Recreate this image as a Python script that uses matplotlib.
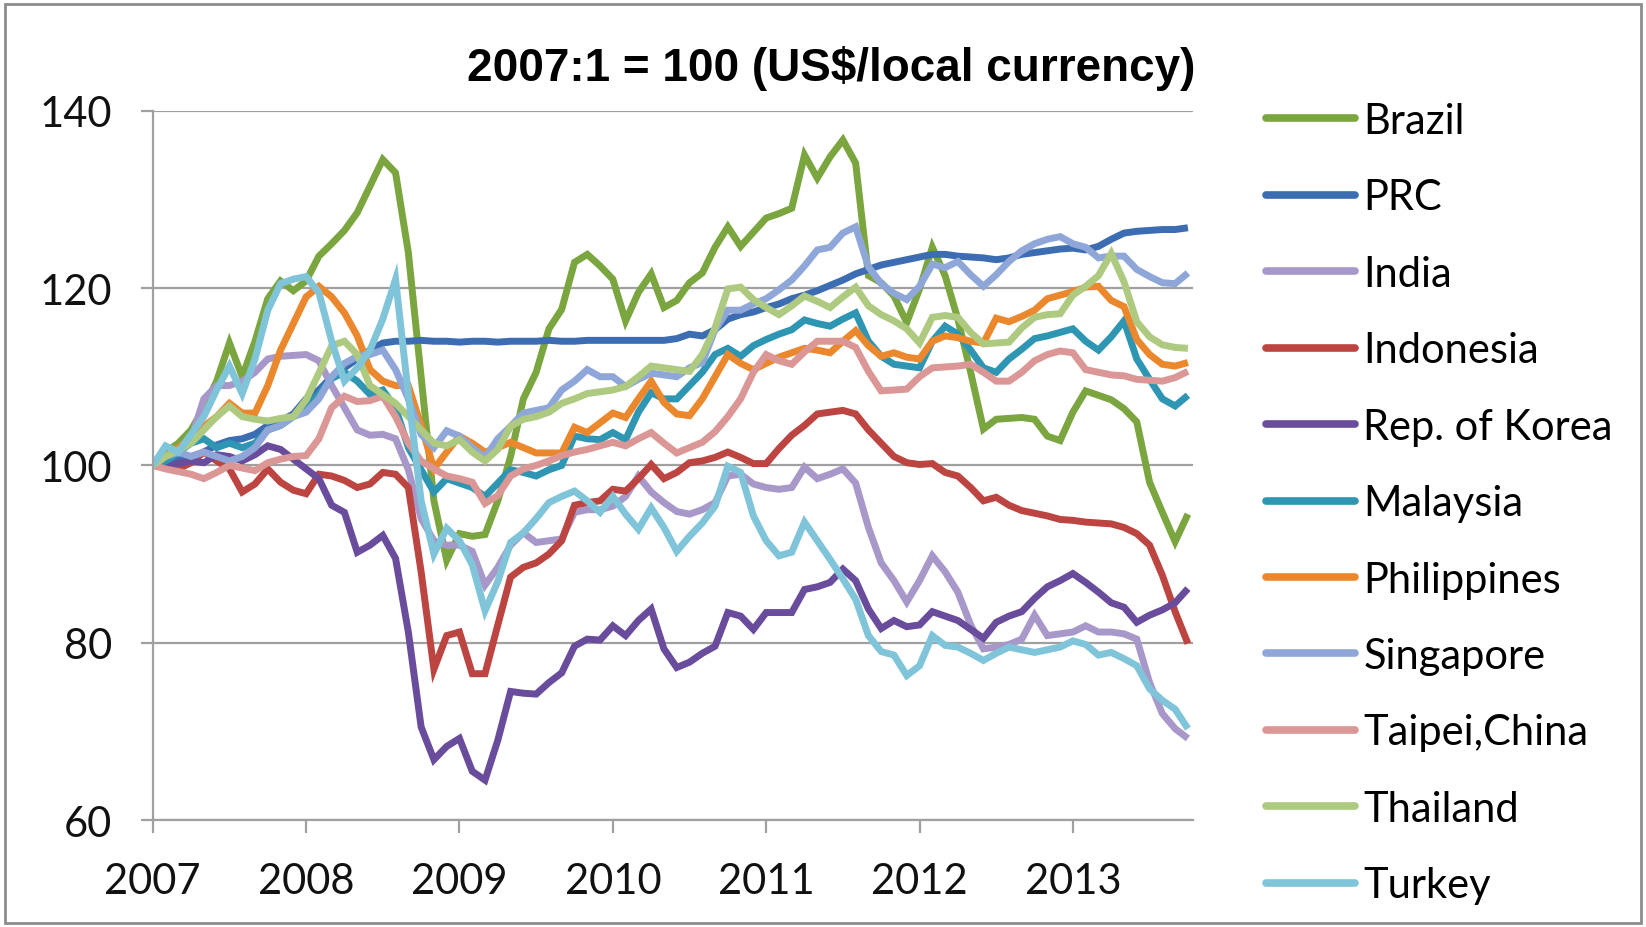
import numpy as np
import matplotlib
matplotlib.use("Agg")
import matplotlib.pyplot as plt
from matplotlib.patches import Rectangle

# ─────────────────────────────────────────────
#  Data: monthly index, 2007:1 = 100 (US$/local currency)
# ─────────────────────────────────────────────
year_labels = ["2007", "2008", "2009", "2010", "2011", "2012", "2013"]

brazil = [100, 101.5, 102.5, 104, 106.5, 109.5, 113.8, 110, 114, 118.8,
          120.8, 119.7, 120.8, 123.6, 125, 126.5, 128.5, 131.5, 134.5, 133,
          124, 110, 96, 89.3, 92.3, 92, 92.2, 96, 101, 107.5,
          110.5, 115.4, 117.6, 122.9, 123.8, 122.5, 121, 116.3, 119.5, 121.6,
          117.8, 118.6, 120.6, 121.7, 124.6, 126.9, 124.7, 126.3, 127.9, 128.4,
          129, 135, 132.4, 134.8, 136.7, 134.1, 121.4, 120.6, 119.1, 116.1,
          119.9, 124.6, 121.4, 116.5, 110.5, 104.1, 105.2, 105.3, 105.4, 105.2,
          103.3, 102.8, 106, 108.4, 107.9, 107.4, 106.4, 104.9, 98.1, 94.7,
          91.4, 94.5]
prc = [100, 100.3, 100.6, 101, 101.5, 102.3, 102.8, 103, 103.5, 104.5,
       105, 105.8, 107.5, 108.5, 110, 111, 112, 113, 113.8, 114,
       114, 114.1, 114, 114, 113.9, 114, 114, 113.9, 114, 114,
       114, 114.1, 114, 114, 114.1, 114.1, 114.1, 114.1, 114.1, 114.1,
       114.1, 114.3, 114.8, 114.6, 115.3, 116.5, 117, 117.3, 117.8, 118.2,
       118.8, 119.2, 119.7, 120.3, 120.9, 121.6, 122.1, 122.6, 122.9, 123.2,
       123.5, 123.8, 123.8, 123.6, 123.5, 123.4, 123.2, 123.4, 123.8, 124,
       124.2, 124.4, 124.5, 124.3, 124.7, 125.5, 126.2, 126.4, 126.5, 126.6,
       126.6, 126.8]
india = [100, 100.5, 101.5, 103, 107.5, 109, 109, 109.5, 110.5, 112,
         112.3, 112.4, 112.5, 111.8, 109, 106.5, 104, 103.4, 103.5, 103,
         99.5, 94, 91.5, 91, 91, 90.3, 86.5, 88.5, 91, 92.4,
         91.3, 91.5, 91.7, 94.7, 95, 95, 95.4, 96.5, 98.8, 97,
         95.8, 94.8, 94.5, 95, 95.8, 98.8, 99, 97.9, 97.5, 97.3,
         97.5, 99.8, 98.5, 99, 99.6, 98, 93, 89, 87, 84.6,
         87, 89.8, 88, 85.7, 82, 79.3, 79.5, 79.8, 80.4, 83.1,
         80.8, 81, 81.2, 81.9, 81.2, 81.2, 81, 80.4, 75.5, 72,
         70.3, 69.2]
indonesia = [100, 99.8, 99.6, 100.3, 101.5, 100.5, 99.6, 97, 97.9, 99.6,
             98.1, 97.2, 96.8, 99, 98.8, 98.3, 97.5, 97.9, 99.2, 99,
             97.5, 88, 77, 80.8, 81.2, 76.5, 76.5, 82, 87.4, 88.5,
             89, 90, 91.5, 95.5, 95.8, 96, 97.3, 97.1, 98.5, 100.1,
             98.5, 99.2, 100.3, 100.5, 100.9, 101.5, 100.9, 100.2, 100.2, 101.9,
             103.4, 104.5, 105.8, 106, 106.2, 105.8, 104, 102.5, 101, 100.3,
             100.1, 100.2, 99.2, 98.8, 97.5, 96, 96.4, 95.5, 94.9, 94.6,
             94.3, 93.9, 93.8, 93.6, 93.5, 93.4, 93, 92.3, 91, 87.6,
             83.5, 79.9]
korea = [100, 99.8, 100.2, 100.5, 100.3, 101.2, 101, 100.5, 101.2, 102.2,
         101.8, 100.7, 99.6, 98.5, 95.5, 94.7, 90.2, 91, 92.1, 89.5,
         81.2, 70.5, 66.8, 68.3, 69.2, 65.5, 64.5, 69, 74.5, 74.3,
         74.2, 75.5, 76.6, 79.6, 80.4, 80.3, 81.9, 80.8, 82.5, 83.8,
         79.3, 77.2, 77.8, 78.8, 79.6, 83.4, 83, 81.5, 83.4, 83.4,
         83.4, 86, 86.3, 86.8, 88.3, 87, 83.8, 81.6, 82.5, 81.8,
         82, 83.5, 83, 82.5, 81.5, 80.5, 82.3, 83, 83.5, 85,
         86.3, 87, 87.8, 86.8, 85.7, 84.5, 84, 82.3, 83.1, 83.7,
         84.5, 86.1]
malaysia = [100, 100.5, 101.5, 102.5, 103, 102, 102.5, 102, 102.5, 104,
            104.5, 105.5, 106.5, 108, 109.8, 110.5, 109.5, 108, 108.5, 106.5,
            102, 99.5, 97, 98.5, 98, 97.5, 96.5, 98, 99.5, 99.2,
            98.8, 99.5, 100, 103.3, 103, 102.9, 103.7, 102.9, 106, 108.2,
            107.5, 107.5, 109, 110.5, 112.5, 113.2, 112.3, 113.5, 114.2, 114.8,
            115.3, 116.4, 116, 115.7, 116.5, 117.2, 114, 112.3, 111.4, 111.2,
            111, 114, 115.7, 114.8, 113, 111, 110.5, 112, 113.1, 114.3,
            114.6, 115, 115.4, 114, 113, 114.5, 116.3, 112, 109.7, 107.5,
            106.7, 107.9]
philippines = [100, 101, 102, 103, 104.4, 105.5, 107, 105.9, 105.9, 109,
               113, 116, 119, 120.2, 119, 117.2, 114.6, 110.8, 109.5, 109,
               109, 104.5, 99.6, 101.5, 103.3, 102.5, 101.5, 102, 102.6, 102,
               101.4, 101.4, 101.4, 104.3, 103.7, 104.8, 105.9, 105.4, 107.5, 109.5,
               107.1, 105.8, 105.6, 107.5, 110, 112.5, 111.5, 110.8, 111.5, 112.2,
               112.7, 113.2, 113, 112.7, 114, 115.2, 113.5, 112.3, 112.7, 112.2,
               112, 114, 114.6, 114.4, 114, 113.8, 116.6, 116.2, 116.8, 117.5,
               118.8, 119.2, 119.6, 120.1, 120.2, 118.6, 117.9, 114.2, 112.5, 111.4,
               111.2, 111.6]
singapore = [100, 101, 101.5, 101, 101.5, 101, 100.5, 101, 102, 104,
             104.5, 105.5, 106, 107.5, 110, 111.5, 112.3, 112.5, 113, 110.8,
             107.5, 103.5, 102, 103.9, 103.3, 102, 100.9, 103, 104.4, 105.9,
             106.2, 106.5, 108.5, 109.5, 110.8, 110, 110, 108.9, 109.7, 110.4,
             110.2, 110, 111, 111.6, 115.3, 117.5, 117.5, 118.2, 118.8, 119.8,
             120.9, 122.5, 124.3, 124.6, 126.2, 126.9, 122.4, 120.5, 119.4, 118.7,
             120.2, 122.7, 122.3, 123, 121.5, 120.2, 121.5, 123, 124.2, 125,
             125.5, 125.8, 125, 124.6, 123.4, 123.6, 123.6, 122.1, 121.3, 120.6,
             120.5, 121.7]
taipei = [100, 99.6, 99.3, 99, 98.5, 99.2, 100, 99.7, 99.4, 100.3,
          100.7, 101, 101.1, 103, 106.5, 107.8, 107.2, 107.3, 107.8, 105.5,
          102.5, 100.5, 99.6, 98.8, 98.5, 98.1, 95.7, 96.6, 98.8, 99.6,
          100, 100.5, 101.1, 101.5, 101.8, 102.2, 102.6, 102.2, 103, 103.7,
          102.5, 101.4, 102, 102.6, 103.8, 105.5, 107.5, 110.5, 112.5, 111.8,
          111.4, 112.8, 114, 114, 114, 113.3, 110.6, 108.4, 108.5, 108.6,
          110, 111, 111.1, 111.2, 111.4, 110.5, 109.5, 109.5, 110.5, 111.8,
          112.5, 112.9, 112.7, 110.8, 110.5, 110.2, 110.1, 109.7, 109.6, 109.5,
          109.9, 110.6]
thailand = [100, 101, 101.7, 102.5, 104, 105.5, 106.7, 105.5, 105.2, 105,
            105.3, 105.5, 107.4, 110.4, 113.5, 114, 112.5, 109, 108, 107,
            105.5, 104, 102.5, 102.2, 102.9, 101.5, 100.5, 101.8, 104.4, 105.2,
            105.5, 106, 107, 107.5, 108.1, 108.3, 108.5, 108.9, 110, 111.2,
            111, 110.8, 110.6, 112.5, 115.5, 119.9, 120.1, 118.7, 117.8, 117,
            118, 119.1, 118.5, 117.8, 119, 120.1, 118, 117, 116.3, 115.4,
            113.8, 116.7, 116.9, 116.7, 115, 113.7, 113.8, 113.9, 115.5, 116.7,
            117, 117.1, 119.2, 120.2, 121.4, 123.9, 120.7, 116.2, 114.5, 113.6,
            113.3, 113.2]
turkey = [100, 102.2, 101.5, 103.5, 105.5, 108.5, 111.2, 108.1, 112, 117.5,
          120.5, 121, 121.3, 119.5, 114, 109.5, 111, 113, 116.5, 121,
          108, 96, 90, 92.9, 91.5, 88.8, 83.6, 86.9, 91.3, 92.4,
          94, 95.8, 96.5, 97.1, 96, 94.7, 96.5, 94.5, 92.8, 95.2,
          93, 90.3, 92, 93.5, 95.4, 99.9, 99.2, 94.3, 91.5, 89.8,
          90.2, 93.6, 91.5, 89.4, 87.2, 84.9, 80.8, 79, 78.6, 76.3,
          77.4, 80.8, 79.7, 79.5, 78.8, 78, 78.8, 79.5, 79.2, 78.9,
          79.2, 79.5, 80.2, 79.8, 78.6, 78.9, 78.2, 77.4, 74.8, 73.5,
          72.5, 70.3]

SERIES = [
    ("Brazil", brazil, "#7AA53F"),
    ("PRC", prc, "#3C6DB3"),
    ("India", india, "#A898C9"),
    ("Indonesia", indonesia, "#BC4542"),
    ("Rep. of Korea", korea, "#6A4C9C"),
    ("Malaysia", malaysia, "#2E96B2"),
    ("Philippines", philippines, "#EB882E"),
    ("Singapore", singapore, "#8FA7D8"),
    ("Taipei,China", taipei, "#DA9795"),
    ("Thailand", thailand, "#ADCA80"),
    ("Turkey", turkey, "#80C4DA"),
]

# ─────────────────────────────────────────────
#  Figure
# ─────────────────────────────────────────────
FONT = "Lato"
GRID = "#A0A0A0"

fig = plt.figure(figsize=(16.46, 9.28), dpi=100)
ax = fig.add_axes([0.0928, 0.1153, 0.632, 0.7643])

months = np.arange(len(brazil))
for name, vals, col in SERIES:
    ax.plot(months, vals, color=col, lw=5, label=name,
            solid_joinstyle="miter", solid_capstyle="butt")

ax.set_xlim(0, 81.4)
ax.set_ylim(60, 140)
ax.set_yticks([60, 80, 100, 120, 140])
ax.set_xticks(np.arange(0, 73, 12))
ax.set_xticklabels(year_labels)

ax.yaxis.grid(True, color=GRID, lw=1.6)
ax.set_axisbelow(True)
for s in ["top", "right"]:
    ax.spines[s].set_visible(False)
for s in ["left", "bottom"]:
    ax.spines[s].set_color(GRID)
    ax.spines[s].set_linewidth(1.6)
ax.tick_params(axis="y", length=9, width=1.6, color=GRID, pad=20,
               labelsize=30, labelcolor="#111111")
ax.tick_params(axis="x", length=9, width=1.6, color=GRID, pad=21,
               labelsize=30, labelcolor="#111111")
for lab in ax.get_xticklabels() + ax.get_yticklabels():
    lab.set_fontfamily(FONT)

fig.text(0.505, 0.926, "2007:1 = 100 (US$/local currency)",
         ha="center", va="center", fontsize=33, fontweight="bold",
         family="Liberation Sans")

leg = fig.legend(loc="upper left", bbox_to_anchor=(0.769, 0.889),
                 frameon=False, prop={"family": FONT, "size": 30},
                 handlelength=2.14, handletextpad=0.2, labelspacing=0.922,
                 borderpad=0, borderaxespad=0)
for h in leg.get_lines():
    h.set_linewidth(5.5)
    h.set_solid_capstyle("round")

# outer chart border
fig.patches.append(Rectangle((0.003, 0.004), 0.994, 0.991,
                             transform=fig.transFigure, fill=False,
                             edgecolor="#8C8C8C", lw=2))

fig.savefig("out.png", dpi=100)
